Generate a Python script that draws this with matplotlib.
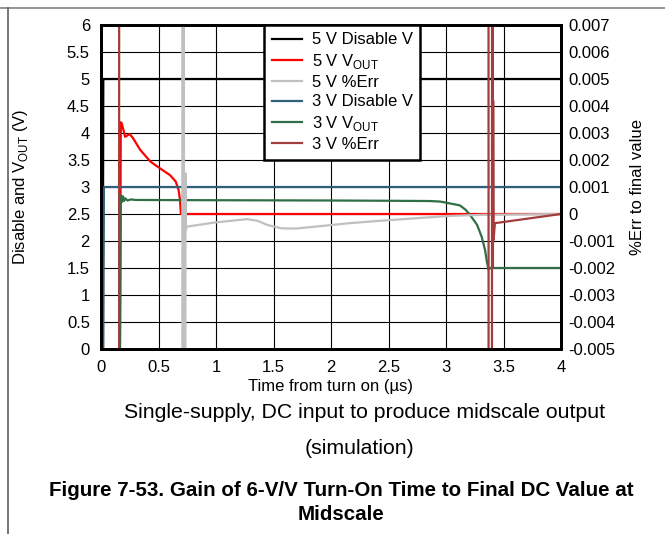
import matplotlib
matplotlib.use("Agg")
import matplotlib.pyplot as plt
from matplotlib.lines import Line2D

plt.rcParams["font.family"] = ["Liberation Sans", "DejaVu Sans"]
plt.rcParams["mathtext.fontset"] = "custom"
plt.rcParams["mathtext.rm"] = "Liberation Sans"

# -- data (time in us) --------------------------------------------------
dis5_t = [0, 0.015, 0.02, 4.0]
dis5_v = [0, 0, 5, 5]

dis3_t = [0, 0.02, 0.025, 4.0]
dis3_v = [0, 0, 3, 3]

vout5_t = [0.165, 0.172, 0.18, 0.21, 0.25, 0.28, 0.34, 0.43, 0.51, 0.60,
           0.65, 0.675, 0.687, 0.695, 4.0]
vout5_v = [0, 4.2, 4.18, 3.93, 3.98, 3.9, 3.69, 3.47, 3.35, 3.22,
           3.1, 2.94, 2.76, 2.5, 2.5]

vout3_t = [0.165, 0.172, 0.18, 0.19, 0.20, 0.21, 0.23, 0.26, 0.30, 1.0,
           2.0, 2.5, 2.86, 2.95, 3.0, 3.12, 3.17, 3.21, 3.27, 3.31, 3.34,
           3.355, 3.37, 3.38, 4.0]
vout3_v = [0, 2.85, 2.72, 2.83, 2.74, 2.79, 2.75, 2.77, 2.76, 2.755,
           2.75, 2.745, 2.74, 2.73, 2.71, 2.66, 2.58, 2.48, 2.30, 2.08, 1.83,
           1.62, 1.47, 1.5, 1.5]

err5_t = [0, 0.705, 0.71, 0.718, 0.725, 0.735, 0.738, 0.745, 0.98, 1.27,
          1.36, 1.45, 1.57, 1.69, 2.0, 2.16, 2.43, 3.03, 3.32, 4.0]
err5_v = [0.05, 0.05, -0.05, 0.05, -0.05, 0.0015, -0.0006, -0.00047,
          -0.00032, -0.00019, -0.00025, -0.00041, -0.00053, -0.00054,
          -0.00041, -0.00034, -0.00025, -0.00007, -0.00003, 0]

err3_t = [0, 0.155, 0.16, 3.368, 3.372, 3.398, 3.402, 3.405, 3.408, 3.41,
          3.414, 3.425, 4.0]
err3_v = [-0.05, -0.05, 0.05, 0.05, -0.05, -0.05, 0.05, 0.05, -0.002,
          0.0042, -0.00096, -0.00034, 0]

left_ticks = [0, 0.5, 1, 1.5, 2, 2.5, 3, 3.5, 4, 4.5, 5, 5.5, 6]
left_labels = ["0", "0.5", "1", "1.5", "2", "2.5", "3", "3.5", "4", "4.5",
               "5", "5.5", "6"]
right_ticks = [-0.005, -0.004, -0.003, -0.002, -0.001, 0, 0.001, 0.002,
               0.003, 0.004, 0.005, 0.006, 0.007]
right_labels = ["-0.005", "-0.004", "-0.003", "-0.002", "-0.001", "0",
                "0.001", "0.002", "0.003", "0.004", "0.005", "0.006", "0.007"]
x_ticks = [0, 0.5, 1, 1.5, 2, 2.5, 3, 3.5, 4]
x_labels = ["0", "0.5", "1", "1.5", "2", "2.5", "3", "3.5", "4"]

C_BLACK = "#000000"
C_RED = "#ff0000"
C_GRAY = "#c0c0c0"
C_BLUE = "#2f5f7a"
C_GREEN = "#2f6e46"
C_BROWN = "#a33c3c"

W, H = 665, 534
fig = plt.figure(figsize=(W / 100, H / 100), dpi=100)
ax = fig.add_axes([101 / W, 1 - 349 / H, 460 / W, 324 / H])
ax2 = ax.twinx()

lw = 1.6
h1, = ax.plot(dis5_t, dis5_v, color=C_BLACK, lw=lw, label="5 V Disable V")
h2, = ax.plot(vout5_t, vout5_v, color=C_RED, lw=lw,
              label="5 V V$_\\mathregular{OUT}$")
h4, = ax.plot(dis3_t, dis3_v, color=C_BLUE, lw=lw, label="3 V Disable V")
h5, = ax.plot(vout3_t, vout3_v, color=C_GREEN, lw=lw,
              label="3 V V$_\\mathregular{OUT}$")
h3, = ax2.plot(err5_t, err5_v, color=C_GRAY, lw=lw, label="5 V %Err")
h6, = ax2.plot(err3_t, err3_v, color=C_BROWN, lw=lw, label="3 V %Err")

ax.set_xlim(0, 4)
ax.set_ylim(0, 6)
ax2.set_ylim(-0.005, 0.007)
ax.set_xticks(x_ticks, x_labels)
ax.set_yticks(left_ticks, left_labels)
ax2.set_yticks(right_ticks, right_labels)
ax.grid(True, color="black", lw=0.8)
ax.set_axisbelow(True)

for a in (ax, ax2):
    for s in a.spines.values():
        s.set_linewidth(2.0)
    a.tick_params(length=0, labelsize=12)
ax.tick_params(axis="x", pad=8)
ax.tick_params(axis="y", pad=8)
ax2.tick_params(axis="y", pad=5)

ax.set_xlabel("Time from turn on (\u00b5s)", fontsize=12, labelpad=3)
ax.set_ylabel("Disable and V$_\\mathregular{OUT}$ (V)", fontsize=12)
ax.yaxis.set_label_coords((30 - 101) / 460, 0.5)
ax2.set_ylabel("%Err to final value", fontsize=12)
ax2.yaxis.set_label_coords((630 - 101) / 460, 0.5)

leg = ax2.legend(handles=[h1, h2, h3, h4, h5, h6], loc="upper left",
                 bbox_to_anchor=((264 - 101) / 460, 1.0), fontsize=12,
                 frameon=True, fancybox=False, framealpha=1,
                 edgecolor="black", handlelength=1.8, handletextpad=0.6,
                 labelspacing=0.26, borderpad=0.45, borderaxespad=0)
leg.get_frame().set_linewidth(1.8)

# page frame lines
fig.add_artist(Line2D([0, 1], [1 - 8 / H, 1 - 8 / H], color="#808080", lw=1.2))
fig.add_artist(Line2D([8 / W, 8 / W], [0, 1 - 8 / H], color="#606060", lw=1.2))

fig.text(365 / W, 1 - 413 / H,
         "Single-supply, DC input to produce midscale output",
         ha="center", va="center", fontsize=15.3)
fig.text(360 / W, 1 - 449 / H, "(simulation)", ha="center", va="center",
         fontsize=15.3)
fig.text(341 / W, 1 - 490 / H,
         "Figure 7-53. Gain of 6-V/V Turn-On Time to Final DC Value at",
         ha="center", va="center", fontsize=14.8, fontweight="bold")
fig.text(341 / W, 1 - 514 / H, "Midscale", ha="center", va="center",
         fontsize=14.8, fontweight="bold")

fig.savefig("out.png", dpi=100)
